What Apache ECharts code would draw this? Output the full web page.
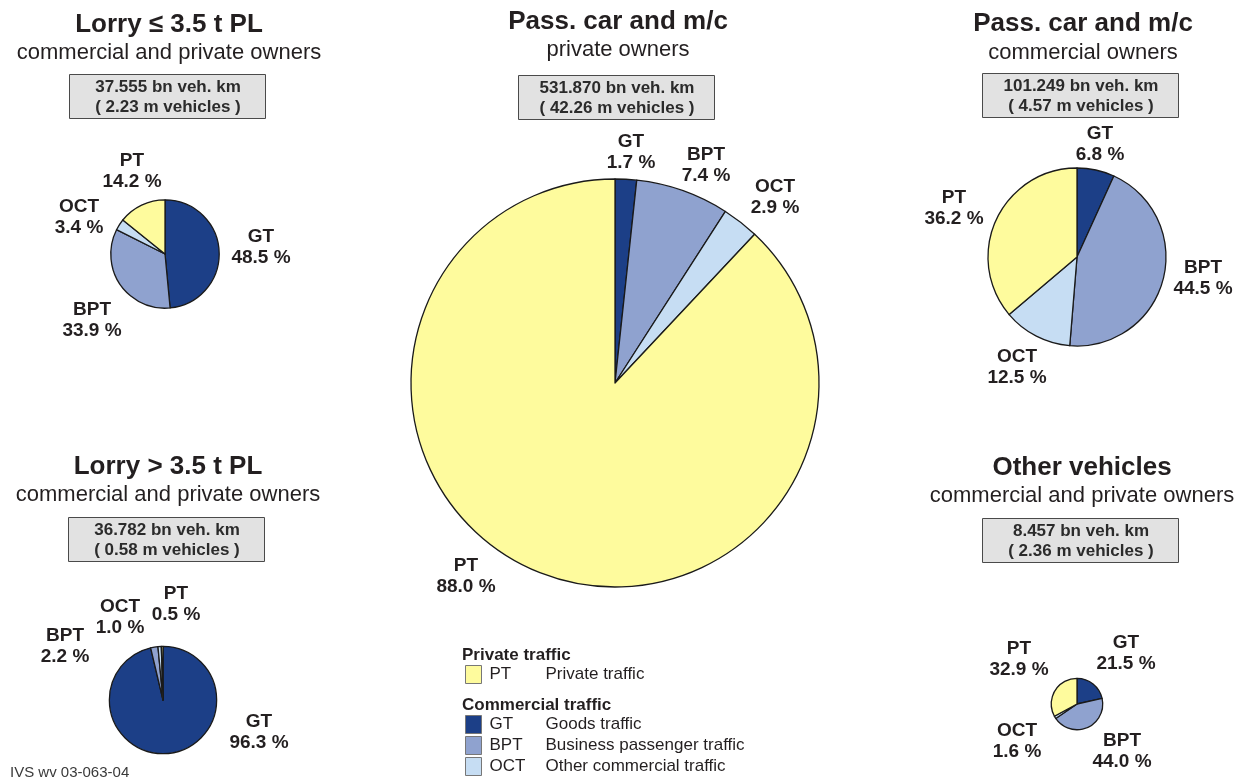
<!DOCTYPE html>
<html>
<head>
<meta charset="utf-8">
<title>Vehicle kilometres by purpose of trip</title>
<script src="https://cdn.jsdelivr.net/npm/echarts@6/dist/echarts.min.js"></script>
<style>
  html, body { margin: 0; padding: 0; background: #ffffff; }
  #chart { width: 1247px; height: 781px; }
</style>
</head>
<body>
<div id="chart"></div>
<script>
// ---- data ----------------------------------------------------------
const purposes = ['GT', 'BPT', 'OCT', 'PT'];
const purposeNames = {
  PT: 'Private traffic',
  GT: 'Goods traffic',
  BPT: 'Business passenger traffic',
  OCT: 'Other commercial traffic'
};

const groupTitles = ['Lorry \u2264 3.5 t PL', 'Pass. car and m/c', 'Pass. car and m/c', 'Lorry > 3.5 t PL', 'Other vehicles'];
const groupOwners = ['commercial and private owners', 'private owners', 'commercial owners', 'commercial and private owners', 'commercial and private owners'];
const vehKm = ['37.555', '531.870', '101.249', '36.782', '8.457'];      // bn veh. km
const vehicles = ['2.23', '42.26', '4.57', '0.58', '2.36'];            // m vehicles

// shares in %, order: GT, BPT, OCT, PT
const shareLorrySmall = [48.5, 33.9, 3.4, 14.2];
const sharePassPrivate = [1.7, 7.4, 2.9, 88.0];
const sharePassCommercial = [6.8, 44.5, 12.5, 36.2];
const shareLorryLarge = [96.3, 2.2, 1.0, 0.5];
const shareOther = [21.5, 44.0, 1.6, 32.9];
const shares = [shareLorrySmall, sharePassPrivate, sharePassCommercial, shareLorryLarge, shareOther];

// ---- layout & style ------------------------------------------------
const COLORS = { GT: '#1c3f87', BPT: '#8fa2cf', OCT: '#c6ddf3', PT: '#fefb9d' };
const TEXT = '#231f20';
const FONT = '"Liberation Sans", Arial, Helvetica, sans-serif';

// pie centres and heading anchors for each panel
const pieCenters = [[165, 254], [615, 383], [1077, 257], [163, 700], [1077, 704]];
const headX = [169, 618, 1083, 168, 1082];
const headY = [25, 22, 24, 467, 468];
const subY = [53, 50, 53, 495, 496];
const boxes = [[69, 74], [518, 75], [982, 73], [68, 517], [982, 518]];
const BOX_W = 196, BOX_H = 44;

// pie area proportional to vehicle kilometres
const BASE_RADIUS = 204;
const maxKm = Math.max(...vehKm.map(Number));
const radii = vehKm.map(v => BASE_RADIUS * Math.sqrt(Number(v) / maxKm));

// label centre offsets from each pie centre (GT, BPT, OCT, PT)
const labelOffsets = [
  [[96, -7], [-73, 66], [-86, -37], [-33, -83]],
  [[16, -231], [91, -218], [160, -186], [-149, 193]],
  [[23, -113], [126, 21], [-60, 110], [-123, -49]],
  [[96, 32], [-98, -54], [-43, -83], [13, -96]],
  [[49, -51], [45, 47], [-60, 37], [-58, -45]]
];

// ---- series ----------------------------------------------------------
const series = shares.map((vals, i) => ({
  type: 'pie',
  center: pieCenters[i],
  radius: radii[i],
  startAngle: 90,
  clockwise: true,
  avoidLabelOverlap: false,
  silent: true,
  animation: false,
  itemStyle: { borderColor: '#1a1a1a', borderWidth: 1.3 },
  label: {
    show: true,
    position: 'outside',
    color: TEXT,
    fontFamily: FONT,
    fontWeight: 'bold',
    fontSize: 19,
    lineHeight: 21,
    formatter: p => p.name + '\n' + p.value.toFixed(1) + ' %'
  },
  labelLine: { show: false },
  labelLayout: params => {
    const off = labelOffsets[i][params.dataIndex];
    return {
      x: pieCenters[i][0] + off[0],
      y: pieCenters[i][1] + off[1],
      align: 'center',
      verticalAlign: 'middle'
    };
  },
  data: purposes.map((p, k) => ({ name: p, value: vals[k], itemStyle: { color: COLORS[p] } }))
}));

// ---- headings, boxes, legend captions ------------------------------
const graphics = [];
groupTitles.forEach((t, i) => {
  graphics.push({
    type: 'text', x: headX[i], y: headY[i], silent: true,
    style: { text: t, font: 'bold 26px ' + FONT, fill: TEXT, align: 'center', verticalAlign: 'middle' }
  });
  graphics.push({
    type: 'text', x: headX[i], y: subY[i], silent: true,
    style: { text: groupOwners[i], font: '22px ' + FONT, fill: TEXT, align: 'center', verticalAlign: 'middle' }
  });
  const [bx, by] = boxes[i];
  graphics.push({
    type: 'rect', silent: true,
    shape: { x: bx + 0.5, y: by + 0.5, width: BOX_W, height: BOX_H },
    style: { fill: '#e2e2e2', stroke: '#4a4a4a', lineWidth: 1 }
  });
  graphics.push({
    type: 'text', x: bx + BOX_W / 2 + 1, y: by + BOX_H / 2 + 1, silent: true,
    style: {
      text: vehKm[i] + ' bn veh. km\n( ' + vehicles[i] + ' m vehicles )',
      font: 'bold 17px ' + FONT, lineHeight: 20, fill: '#2b2b2b',
      align: 'center', verticalAlign: 'middle'
    }
  });
});

graphics.push({
  type: 'text', x: 462, y: 655, silent: true,
  style: { text: 'Private traffic', font: 'bold 17px ' + FONT, fill: TEXT, verticalAlign: 'middle' }
});
graphics.push({
  type: 'text', x: 462, y: 705, silent: true,
  style: { text: 'Commercial traffic', font: 'bold 17px ' + FONT, fill: TEXT, verticalAlign: 'middle' }
});
graphics.push({
  type: 'text', x: 10, y: 773, silent: true,
  style: { text: 'IVS wv 03-063-04', font: '15px ' + FONT, fill: '#3a3a3a', verticalAlign: 'middle' }
});

// ---- legends --------------------------------------------------------
const legendBase = {
  orient: 'vertical',
  icon: 'rect',
  itemWidth: 16,
  itemHeight: 18,
  itemGap: 2,
  padding: 0,
  height: 120,
  selectedMode: false,
  left: 465,
  itemStyle: { borderColor: '#777777', borderWidth: 1 },
  formatter: name => '{n|' + name + '}{d|' + purposeNames[name] + '}',
  textStyle: {
    color: TEXT,
    fontFamily: FONT,
    fontSize: 17,
    rich: {
      n: { width: 56, padding: [0, 0, 0, 3], fontSize: 17, fontFamily: FONT, color: TEXT },
      d: { fontSize: 17, fontFamily: FONT, color: TEXT }
    }
  }
};

const chart = echarts.init(document.getElementById('chart'), null, { renderer: 'canvas' });
chart.setOption({
  backgroundColor: '#ffffff',
  animation: false,
  legend: [
    Object.assign({}, legendBase, { top: 665, data: ['PT'] }),
    Object.assign({}, legendBase, { top: 715, data: ['GT', 'BPT', 'OCT'] })
  ],
  graphic: graphics,
  series: series
});
</script>
</body>
</html>
